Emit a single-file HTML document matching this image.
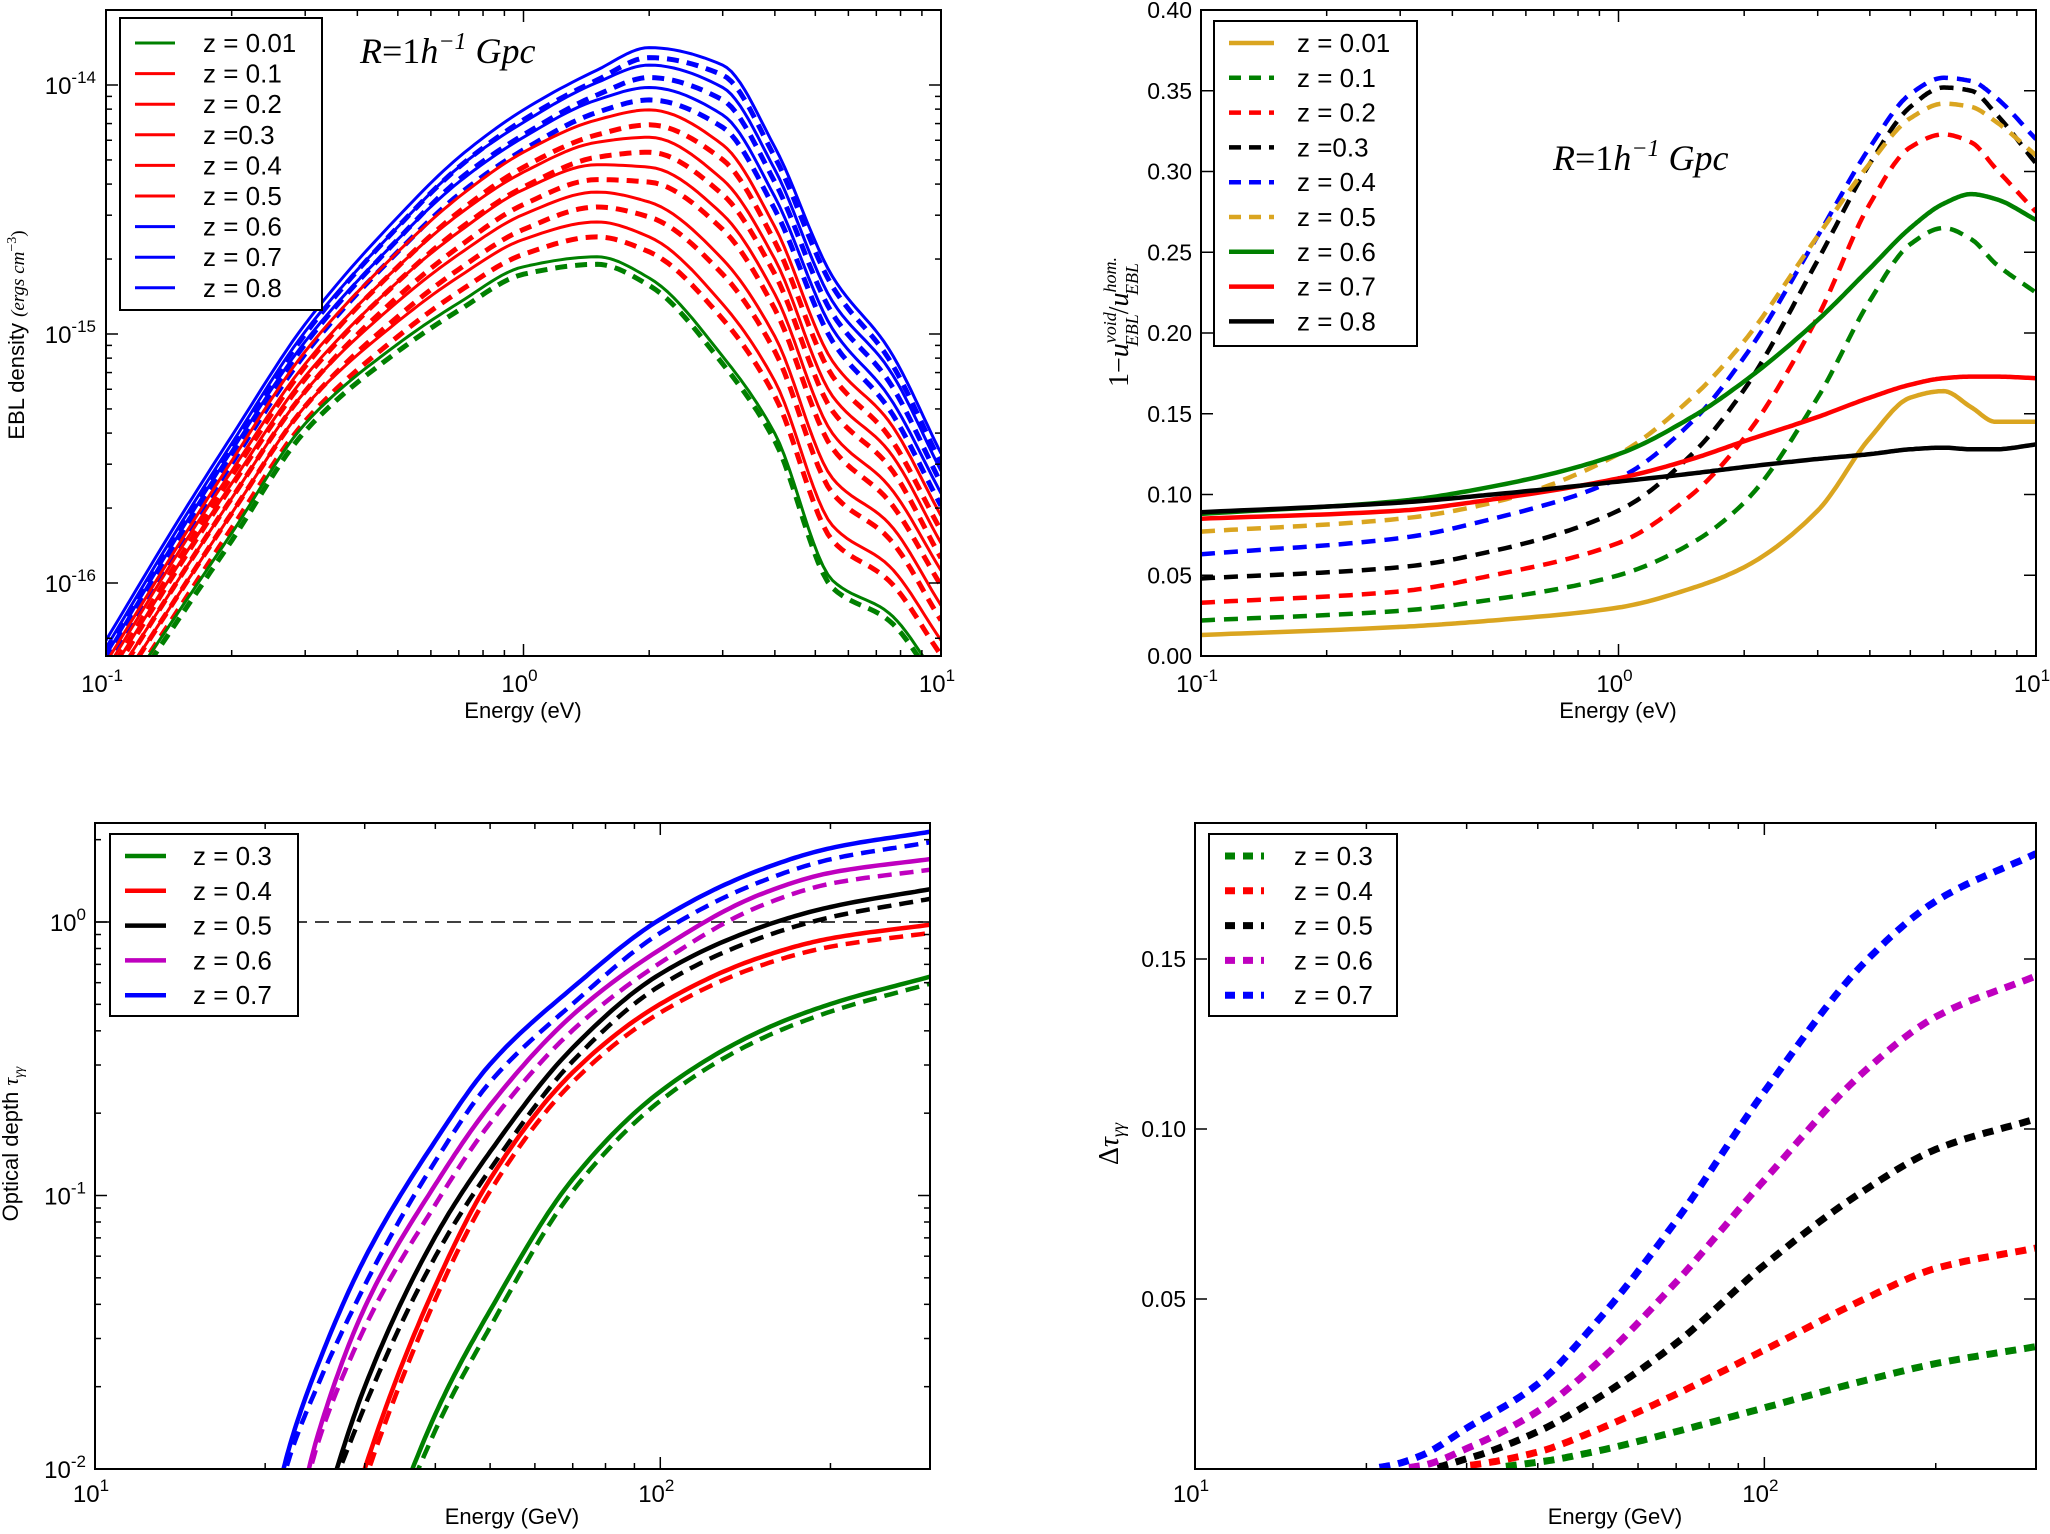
<!DOCTYPE html>
<html><head><meta charset="utf-8"><style>
html,body{margin:0;padding:0;background:#fff;overflow:hidden;width:2050px;height:1534px;}
svg{display:block;font-family:"Liberation Sans","DejaVu Sans",sans-serif;}
</style></head><body>
<svg id="fig" width="2050" height="1534" viewBox="0 0 2050 1534" xmlns="http://www.w3.org/2000/svg"></svg>
<script>
// ---------- DATA ----------
// Top-left: EBL density (log10), solid = homogeneous, dashed = void
const tlEnergy = [0.1,0.15,0.2,0.3,0.5,0.7,1,1.5,2,3,4,5.5,7.5,10];
const tlLabels = ['z = 0.01','z = 0.1','z = 0.2','z =0.3','z = 0.4','z = 0.5','z = 0.6','z = 0.7','z = 0.8'];
const tlColors = ['#008000','#ff0000','#ff0000','#ff0000','#ff0000','#ff0000','#0000ff','#0000ff','#0000ff'];
const tlZ001 = [-16.55,-16.11,-15.80,-15.36,-15.04,-14.875,-14.73,-14.69,-14.775,-15.09,-15.40,-15.99,-16.12,-16.40];
const tlZ01 = [-16.49,-16.04,-15.72,-15.29,-14.95,-14.77,-14.62,-14.55,-14.61,-14.88,-15.19,-15.77,-15.93,-16.23];
const tlZ02 = [-16.44,-15.98,-15.66,-15.23,-14.87,-14.68,-14.52,-14.43,-14.47,-14.70,-15.01,-15.58,-15.76,-16.09];
const tlZ03 = [-16.39,-15.92,-15.60,-15.17,-14.79,-14.59,-14.42,-14.32,-14.33,-14.52,-14.84,-15.40,-15.61,-15.95];
const tlZ04 = [-16.35,-15.87,-15.55,-15.12,-14.73,-14.52,-14.35,-14.23,-14.21,-14.38,-14.70,-15.25,-15.47,-15.84];
const tlZ05 = [-16.32,-15.84,-15.51,-15.07,-14.67,-14.45,-14.27,-14.14,-14.10,-14.24,-14.57,-15.11,-15.35,-15.73];
const tlZ06 = [-16.29,-15.80,-15.47,-15.03,-14.62,-14.39,-14.21,-14.06,-14.01,-14.12,-14.45,-14.98,-15.25,-15.64];
const tlZ07 = [-16.26,-15.77,-15.44,-14.99,-14.57,-14.33,-14.15,-13.99,-13.92,-14.01,-14.34,-14.87,-15.14,-15.55];
const tlZ08 = [-16.23,-15.74,-15.41,-14.96,-14.53,-14.29,-14.10,-13.94,-13.85,-13.92,-14.25,-14.77,-15.06,-15.48];
const tlVoidDrop = [0.03,0.06,0.06,0.06,0.06,0.06,0.05,0.05,0.04];

// Top-right: 1 - u_void/u_hom
const trEnergy = [0.1,0.3,0.5,1,1.5,2,3,4,5,6,7,8,10];
const trLabels = ['z = 0.01','z = 0.1','z = 0.2','z =0.3','z = 0.4','z = 0.5','z = 0.6','z = 0.7','z = 0.8'];
const trColors = ['#DAA520','#008000','#ff0000','#000000','#0000ff','#DAA520','#008000','#ff0000','#000000'];
const trDashed = [false,true,true,true,true,true,false,false,false];
const trZ001 = [0.013,0.018,0.022,0.030,0.042,0.055,0.090,0.135,0.160,0.164,0.154,0.145,0.145];
const trZ01 = [0.022,0.028,0.035,0.050,0.070,0.095,0.160,0.220,0.255,0.265,0.258,0.243,0.225];
const trZ02 = [0.033,0.040,0.050,0.070,0.100,0.135,0.210,0.280,0.315,0.323,0.318,0.302,0.275];
const trZ03 = [0.048,0.055,0.065,0.090,0.125,0.165,0.245,0.305,0.340,0.352,0.350,0.336,0.305];
const trZ04 = [0.063,0.073,0.085,0.110,0.145,0.185,0.260,0.315,0.348,0.358,0.356,0.346,0.320];
const trZ05 = [0.077,0.085,0.095,0.125,0.160,0.195,0.260,0.305,0.333,0.342,0.340,0.331,0.310];
const trZ06 = [0.088,0.096,0.105,0.125,0.148,0.170,0.208,0.240,0.265,0.280,0.286,0.283,0.270];
const trZ07 = [0.085,0.090,0.097,0.110,0.122,0.133,0.148,0.160,0.168,0.172,0.173,0.173,0.172];
const trZ08 = [0.089,0.095,0.100,0.108,0.113,0.117,0.122,0.125,0.128,0.129,0.128,0.128,0.131];

// Bottom: optical depth (log10 tau, homogeneous) and delta tau
const gevEnergy = [20,22,25,30,40,50,70,100,150,200,300];
const bLabels = ['z = 0.3','z = 0.4','z = 0.5','z = 0.6','z = 0.7'];
const bColors = ['#008000','#ff0000','#000000','#bf00bf','#0000ff'];
const bStartE = [35,30,26.6,23.7,21];
const tauZ03 = [-3.8,-3.5,-3.1,-2.5,-1.8,-1.42,-0.94,-0.62,-0.40,-0.30,-0.20];
const tauZ04 = [-3.3,-3.0,-2.6,-2.0,-1.33,-0.94,-0.55,-0.30,-0.13,-0.06,-0.01];
const tauZ05 = [-2.9,-2.6,-2.2,-1.7,-1.15,-0.84,-0.46,-0.19,-0.02,0.055,0.12];
const tauZ06 = [-2.6,-2.3,-1.85,-1.41,-0.96,-0.67,-0.34,-0.10,0.10,0.18,0.23];
const tauZ07 = [-2.3,-1.93,-1.60,-1.23,-0.80,-0.52,-0.24,0.01,0.19,0.27,0.33];
const dtauZ03 = [0,0,0,0,0.002,0.005,0.011,0.018,0.026,0.031,0.036];
const dtauZ04 = [0,0,0,0.001,0.005,0.011,0.022,0.035,0.050,0.059,0.065];
const dtauZ05 = [0,0,0,0.003,0.011,0.020,0.037,0.060,0.082,0.094,0.103];
const dtauZ06 = [0,0,0.001,0.006,0.017,0.030,0.055,0.085,0.117,0.133,0.145];
const dtauZ07 = [0,0.001,0.004,0.012,0.025,0.042,0.073,0.111,0.149,0.167,0.181];

const tlSeries = [tlZ001,tlZ01,tlZ02,tlZ03,tlZ04,tlZ05,tlZ06,tlZ07,tlZ08];
const trSeries = [trZ001,trZ01,trZ02,trZ03,trZ04,trZ05,trZ06,trZ07,trZ08];
const tauSeries = [tauZ03,tauZ04,tauZ05,tauZ06,tauZ07];
const dtauSeries = [dtauZ03,dtauZ04,dtauZ05,dtauZ06,dtauZ07];

// ---------- HELPERS ----------
const NS='http://www.w3.org/2000/svg';
const fig=document.getElementById('fig');
function mk(tag,attrs,parent){const e=document.createElementNS(NS,tag);for(const k in attrs)e.setAttribute(k,attrs[k]);(parent||fig).appendChild(e);return e;}
function scale(a0,a1,p0,p1,log){return v=>{const t=log?(Math.log10(v)-Math.log10(a0))/(Math.log10(a1)-Math.log10(a0)):(v-a0)/(a1-a0);return p0+t*(p1-p0);};}
function linePath(pts){return pts.map((p,i)=>(i?'L':'M')+p[0].toFixed(1)+','+p[1].toFixed(1)).join(' ');}
function monotone(xs,ys,n){
 const m=xs.length,d=[],s=[];
 for(let i=0;i<m-1;i++)d.push((ys[i+1]-ys[i])/(xs[i+1]-xs[i]));
 s[0]=d[0];s[m-1]=d[m-2];
 for(let i=1;i<m-1;i++){if(d[i-1]*d[i]<=0)s[i]=0;else{const h0=xs[i]-xs[i-1],h1=xs[i+1]-xs[i];const w1=2*h1+h0,w2=h1+2*h0;s[i]=(w1+w2)/(w1/d[i-1]+w2/d[i]);}}
 const out=[];
 for(let i=0;i<m-1;i++){const h=xs[i+1]-xs[i];for(let k=0;k<n;k++){const t=k/n;const t2=t*t,t3=t2*t;
  const y=(2*t3-3*t2+1)*ys[i]+(t3-2*t2+t)*h*s[i]+(-2*t3+3*t2)*ys[i+1]+(t3-t2)*h*s[i+1];
  out.push([xs[i]+t*h,y]);}}
 out.push([xs[m-1],ys[m-1]]);return out;}
let clipN=0;
function panel(name,x0,y0,x1,y1){
 const g=mk('g',{});
 
 
 const id='clip'+(clipN++);
 const cp=mk('clipPath',{id:id},g);mk('rect',{x:x0,y:y0,width:x1-x0,height:y1-y0},cp);
 const plot=mk('g',{'clip-path':'url(#'+id+')'},g);
 
 
 return {g,plot,x0,y0,x1,y1};}
function frame(P){const r=mk('rect',{x:P.x0,y:P.y0,width:P.x1-P.x0,height:P.y1-P.y0,fill:'none',stroke:'#000','stroke-width':2},P.g);
 
 }
function tickX(P,px,len){mk('line',{x1:px,x2:px,y1:P.y1,y2:P.y1-len,stroke:'#000','stroke-width':1.5},P.g);mk('line',{x1:px,x2:px,y1:P.y0,y2:P.y0+len,stroke:'#000','stroke-width':1.5},P.g);}
function tickY(P,py,len){mk('line',{x1:P.x0,x2:P.x0+len,y1:py,y2:py,stroke:'#000','stroke-width':1.5},P.g);mk('line',{x1:P.x1,x2:P.x1-len,y1:py,y2:py,stroke:'#000','stroke-width':1.5},P.g);}
function logTicksX(P,sx,d0,d1,labelY){for(let d=d0;d<=d1;d++){tickX(P,sx(Math.pow(10,d)),12);
 const t=mk('text',{x:sx(Math.pow(10,d))-4,y:labelY,'font-size':24,'text-anchor':'middle'},P.g);
 
 
 t.innerHTML='10<tspan dy="-11" font-size="17">'+d+'</tspan>';
 if(d<d1)for(let m=2;m<10;m++){const px=sx(m*Math.pow(10,d));if(px<P.x1-1)tickX(P,px,6);}}}
function linTicksY(P,sy,vals,labelX){vals.forEach(v=>{const py=sy(v);tickY(P,py,12);
 const t=mk('text',{x:labelX,y:py+8,'font-size':23,'text-anchor':'end'},P.g);
 
 
 t.textContent=v.toFixed(2);});}
function axisLabel(x,y,txt,rot,name){const t=mk('text',{x:x,y:y,'font-size':22,'text-anchor':'middle',transform:rot?'rotate(-90 '+x+' '+y+')':''});
 
 
 t.innerHTML=txt;return t;}
function legendBox(x,y,w,h){const r=mk('rect',{x:x,y:y,width:w,height:h,fill:'#fff',stroke:'#000','stroke-width':2});
 
 }
function legendEntry(sx0,sx1,tx,y,color,dash,width,label,fs){
 const l=mk('line',{x1:sx0,x2:sx1,y1:y,y2:y,stroke:color,'stroke-width':width,'stroke-dasharray':dash||'none'});
 
 
 const t=mk('text',{x:tx,y:y+9,'font-size':fs});
 
 
 t.textContent=label;}

// ---------- TOP-LEFT ----------
(function(){
 const P=panel('ebl-density-panel',106,10,941,656);
 const sx=scale(0.1,10,106,941,true);
 const ly=v=>85+(-14-v)*249;
 const lx=tlEnergy.map(e=>Math.log10(e));
 for(let i=0;i<tlSeries.length;i++){
  const ptsV=monotone(lx,tlSeries[i],12).map(p=>[sx(Math.pow(10,p[0])),ly(p[1]-tlVoidDrop[i])]);
  const pd=mk('path',{d:linePath(ptsV),fill:'none',stroke:tlColors[i],'stroke-width':5,'stroke-dasharray':'12 8'},P.plot);
  
  
 }
 for(let i=0;i<tlSeries.length;i++){
  const pts=monotone(lx,tlSeries[i],12).map(p=>[sx(Math.pow(10,p[0])),ly(p[1])]);
  const ps=mk('path',{d:linePath(pts),fill:'none',stroke:tlColors[i],'stroke-width':3,'stroke-linejoin':'round'},P.plot);
  
  
 }
 frame(P);
 logTicksX(P,sx,-1,1,692);
 for(let d=-16;d<=-14;d++){const py=ly(d);tickY(P,py,12);
  const t=mk('text',{x:96,y:py+9,'font-size':24,'text-anchor':'end'},P.g);
  
  
  t.innerHTML='10<tspan dy="-11" font-size="17">'+d+'</tspan>';
  for(let m=2;m<10;m++){const pm=ly(d+Math.log10(m));if(pm>P.y0+1&&pm<P.y1-1)tickY(P,pm,6);}
 }
 tickY(P,ly(-17+Math.log10(6)),6);
 legendBox(120,18,202,292);
 tlLabels.forEach((lb,i)=>legendEntry(135,175,203,43+i*30.6,tlColors[i],null,3,lb,26));
 const a=mk('text',{x:360,y:63,'font-size':36,'font-family':'"Liberation Serif",serif','font-style':'italic'});
 
 
 a.innerHTML='R<tspan font-style="normal">=1</tspan>h<tspan dy="-14" font-size="24">−1</tspan><tspan dy="14"> Gpc</tspan>';
 axisLabel(523,718,'Energy (eV)',false,'x-axis-title');
 axisLabel(24,335,'EBL density <tspan font-family="Liberation Serif,serif" font-style="italic" font-size="19">(ergs cm</tspan><tspan dy="-8" font-size="14" font-family="Liberation Serif,serif">−3</tspan><tspan dy="8" font-family="Liberation Serif,serif" font-size="19">)</tspan>',true,'y-axis-title');
})();

// ---------- TOP-RIGHT ----------
(function(){
 const P=panel('void-fraction-panel',1201,10,2036,656);
 const sx=scale(0.1,10,1201,2036,true);
 const sy=scale(0,0.4,656,10,false);
 const lx=trEnergy.map(e=>Math.log10(e));
 for(let i=0;i<trSeries.length;i++){
  const pts=monotone(lx,trSeries[i],20).map(p=>[sx(Math.pow(10,p[0])),sy(p[1])]);
  const p=mk('path',{d:linePath(pts),fill:'none',stroke:trColors[i],'stroke-width':4.5,'stroke-dasharray':trDashed[i]?'14 9':'none'},P.plot);
  
  
 }
 frame(P);
 logTicksX(P,sx,-1,1,692);
 linTicksY(P,sy,[0,0.05,0.1,0.15,0.2,0.25,0.3,0.35,0.4],1192);
 legendBox(1214,21,203,325);
 trLabels.forEach((lb,i)=>legendEntry(1229,1274,1297,43+i*34.8,trColors[i],trDashed[i]?'12 8':null,4.5,lb,26));
 const a=mk('text',{x:1553,y:170,'font-size':36,'font-family':'"Liberation Serif",serif','font-style':'italic'});
 
 
 a.innerHTML='R<tspan font-style="normal">=1</tspan>h<tspan dy="-14" font-size="24">−1</tspan><tspan dy="14"> Gpc</tspan>';
 axisLabel(1618,718,'Energy (eV)',false,'x-axis-title');
 const yl=mk('text',{x:1128,y:322,'font-size':28,'text-anchor':'middle','font-family':'"Liberation Serif",serif',transform:'rotate(-90 1128 322)'});
 
 
 yl.innerHTML='1−<tspan font-style="italic">u</tspan><tspan dy="-12" font-size="18" font-style="italic">void</tspan><tspan dx="-34" dy="22" font-size="18" font-style="italic">EBL</tspan><tspan dy="-10">/</tspan><tspan font-style="italic">u</tspan><tspan dy="-12" font-size="18" font-style="italic">hom.</tspan><tspan dx="-38" dy="22" font-size="18" font-style="italic">EBL</tspan>';
})();

// ---------- BOTTOM-LEFT ----------
(function(){
 const P=panel('optical-depth-panel',95,823,930,1469);
 const sx=scale(10,300,95,930,true);
 const ly=v=>922+(0-v)*273.5;
 const lx=gevEnergy.map(e=>Math.log10(e));
 const d=mk('line',{x1:95,x2:930,y1:ly(0),y2:ly(0),stroke:'#000','stroke-width':1.5,'stroke-dasharray':'14 8'},P.plot);
 
 
 for(let i=0;i<tauSeries.length;i++){
  const dense=monotone(lx,tauSeries[i],20);
  const denseD=monotone(lx,dtauSeries[i],20);
  const ptsS=dense.map(p=>[sx(Math.pow(10,p[0])),ly(p[1])]);
  const ptsV=dense.map((p,k)=>{const tv=Math.pow(10,p[1])-Math.max(0,denseD[k][1]);return [sx(Math.pow(10,p[0])),ly(Math.log10(Math.max(tv,1e-4)))];});
  const pv=mk('path',{d:linePath(ptsV),fill:'none',stroke:bColors[i],'stroke-width':4.5,'stroke-dasharray':'14 8'},P.plot);
  
  
  const ps=mk('path',{d:linePath(ptsS),fill:'none',stroke:bColors[i],'stroke-width':4.5},P.plot);
  
  
 }
 frame(P);
 logTicksX(P,sx,1,2,1502);
 for(let m=2;m<=3;m++)tickX(P,sx(m*100),6);
 for(let dd=-2;dd<=0;dd++){const py=ly(dd);tickY(P,py,12);
  const t=mk('text',{x:86,y:py+9,'font-size':24,'text-anchor':'end'},P.g);
  
  
  t.innerHTML='10<tspan dy="-11" font-size="17">'+dd+'</tspan>';
  for(let m=2;m<10;m++){const pm=ly(dd+Math.log10(m));if(pm>P.y0+1&&pm<P.y1-1)tickY(P,pm,6);}}
 legendBox(110,834,188,182);
 bLabels.forEach((lb,i)=>legendEntry(125,166,193,856+i*34.8,bColors[i],null,4.5,lb,26));
 axisLabel(512,1524,'Energy (GeV)',false,'x-axis-title');
 axisLabel(18,1144,'Optical depth <tspan font-family="Liberation Serif,serif" font-style="italic">τ</tspan><tspan dy="5" font-size="14" font-family="Liberation Serif,serif" font-style="italic">γγ</tspan>',true,'y-axis-title');
})();

// ---------- BOTTOM-RIGHT ----------
(function(){
 const P=panel('delta-tau-panel',1195,823,2036,1469);
 const sx=scale(10,300,1195,2036,true);
 const sy=scale(0,0.19,1469,823,false);
 const lx=gevEnergy.map(e=>Math.log10(e));
 for(let i=0;i<dtauSeries.length;i++){
  const dense=monotone(lx,dtauSeries[i],20).filter(p=>Math.pow(10,p[0])>=bStartE[i]);
  const pts=dense.map(p=>[sx(Math.pow(10,p[0])),sy(p[1])]);
  const p=mk('path',{d:linePath(pts),fill:'none',stroke:bColors[i],'stroke-width':7,'stroke-dasharray':'11 8'},P.plot);
  
  
 }
 frame(P);
 logTicksX(P,sx,1,2,1502);
 for(let m=2;m<=3;m++)tickX(P,sx(m*100),6);
 linTicksY(P,sy,[0.05,0.10,0.15],1186);
 legendBox(1209,834,188,182);
 bLabels.forEach((lb,i)=>legendEntry(1225,1264,1294,856+i*34.8,bColors[i],'10 8',7,lb,26));
 axisLabel(1615,1524,'Energy (GeV)',false,'x-axis-title');
 const yl=mk('text',{x:1118,y:1144,'font-size':28,'text-anchor':'middle','font-family':'"Liberation Serif",serif',transform:'rotate(-90 1118 1144)'});
 
 
 yl.innerHTML='Δ<tspan font-style="italic">τ</tspan><tspan dy="6" font-size="18" font-style="italic">γγ</tspan>';
})();
</script>
</body></html>
